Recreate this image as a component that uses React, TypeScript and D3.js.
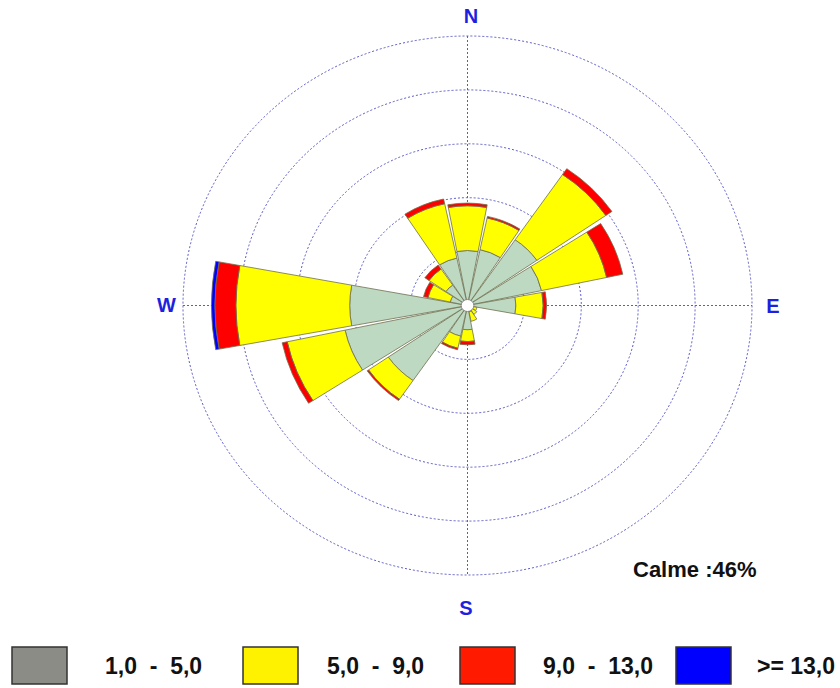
import React from "react";
import * as d3 from "d3";

// wind directions, clockwise from north
const directions = ["N", "NNE", "NE", "ENE", "E", "ESE", "SE", "SSE", "S", "SSW", "SW", "WSW", "W", "WNW", "NW", "NNW"];

// frequency (%) per speed class and direction
const freq1to5 = [2.04, 2.12, 2.96, 2.66, 1.7, 0.2, 0.2, 0.24, 0.9, 1.16, 3.38, 4.4, 4.14, 0.62, 0.92, 1.8];
const freq5to9 = [1.66, 1.2, 2.94, 2.34, 0.96, 0.14, 0.2, 0.36, 0.44, 0.46, 0.84, 2.08, 4.0, 0.8, 0.72, 2.06];
const freq9to13 = [0.1, 0.06, 0.26, 0.58, 0.12, 0, 0, 0, 0.12, 0.06, 0.06, 0.18, 0.74, 0.16, 0.18, 0.18];
const freq13plus = [0, 0, 0, 0, 0, 0, 0, 0, 0, 0, 0, 0, 0.12, 0, 0, 0];

const classLabels = ["1,0  -  5,0", "5,0  -  9,0", "9,0  -  13,0", ">= 13,0"];
const ringTicks = [2, 4, 6, 8, 10];
const compass = ["N", "E", "S", "W"];
const calme = 46;

const sectorColors = ["#bdd9c1", "#ffff00", "#ff0000", "#0000ff"];
const legendColors = ["#8c8c87", "#fff200", "#ff1a00", "#0000ff"];

const cx = 467.5;
const cy = 305.5;
const R = 269.5;
const sx = 1.0557; // the original picture is a bit wider than tall

export default function App() {
  const r = d3.scaleLinear().domain([0, 10]).range([0, R]);
  const angle = d3.scaleBand().domain(directions).range([0, 2 * Math.PI]);
  const half = (10.5 * Math.PI) / 180;
  const arc = d3.arc<any>();
  const series = [freq1to5, freq5to9, freq9to13, freq13plus];

  const sectors: { d: string; fill: string }[] = [];
  directions.forEach((dir, i) => {
    const mid = angle(dir)!;
    let cum = 0;
    series.forEach((s, k) => {
      const v = s[i];
      if (v <= 0) return;
      const d = arc({
        innerRadius: r(cum),
        outerRadius: r(cum + v),
        startAngle: mid - half,
        endAngle: mid + half,
      }) as string;
      sectors.push({ d, fill: sectorColors[k] });
      cum += v;
    });
  });

  const grid = "#5a5ac8";
  const compassPos: Record<string, [number, number]> = {
    N: [471, 23],
    E: [773, 313],
    S: [466, 615],
    W: [166.5, 312],
  };
  const boxX = [12, 243, 460, 676];
  const textX = [105, 327, 543, 757];

  return (
    <svg width={840} height={688} style={{ position: "absolute", left: 0, top: 0, background: "#fff" }}>
      <g transform={`translate(${cx},${cy}) scale(${sx},1)`}>
        {ringTicks.map((t) => (
          <circle key={t} r={r(t)} fill="none" stroke={grid} strokeWidth={1}
            strokeDasharray="2,2" vectorEffect="non-scaling-stroke" />
        ))}
        <line x1={0} x2={0} y1={-R} y2={R} stroke={grid} strokeDasharray="2,2" vectorEffect="non-scaling-stroke" />
        <line x1={-R} x2={R} y1={0} y2={0} stroke={grid} strokeDasharray="2,2" vectorEffect="non-scaling-stroke" />
        {sectors.map((s, i) => (
          <path key={i} d={s.d} fill={s.fill} stroke="#6e6e4e" strokeWidth={0.8}
            vectorEffect="non-scaling-stroke" />
        ))}
        <circle r={6} fill="#fff" stroke="#777" strokeWidth={0.8} vectorEffect="non-scaling-stroke" />
      </g>

      {compass.map((c) => (
        <text key={c} x={compassPos[c][0]} y={compassPos[c][1]} textAnchor="middle"
          fontFamily="'Liberation Sans', Arial, sans-serif" fontWeight="bold" fontSize={20} fill="#1f1fe0">
          {c}
        </text>
      ))}

      <text x={633} y={577} fontFamily="'Liberation Sans', Arial, sans-serif" fontWeight="bold" fontSize={22} fill="#111">
        {`Calme :${calme}%`}
      </text>

      {classLabels.map((lab, i) => (
        <g key={lab}>
          <rect x={boxX[i]} y={647} width={55} height={37} fill={legendColors[i]} stroke="#333" strokeWidth={1.5} />
          <text x={textX[i]} y={674} fontFamily="'Liberation Sans', Arial, sans-serif" fontWeight="bold"
            fontSize={23} fill="#111" style={{ whiteSpace: "pre" }}>
            {lab}
          </text>
        </g>
      ))}
    </svg>
  );
}
